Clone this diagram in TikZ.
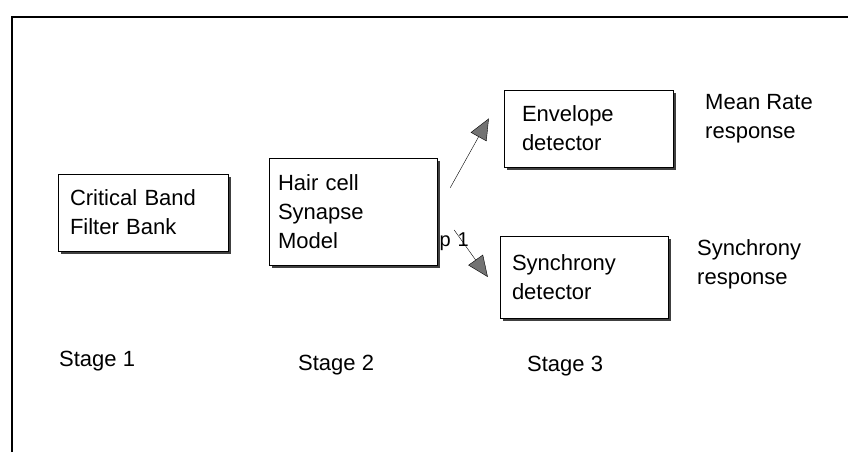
\documentclass[tikz,border=0pt]{standalone}
\usepackage{fontspec}
\setmainfont{Liberation Sans}
\usetikzlibrary{arrows.meta, shadows}
\tikzset{
	block/.style={draw, thin, fill=white, align=left, inner ysep=0pt,
		drop shadow={shadow xshift=3pt, shadow yshift=-3pt, fill=black!75, opacity=1}},
	arrow/.style={thin, -{Triangle[length=21pt, width=18pt, fill=black!55]}},
	caption/.style={inner sep=0pt, align=left},
}

\begin{document}
\begin{tikzpicture}[x=1pt, y=-1pt, font=\fontsize{22}{29}\selectfont]
	\useasboundingbox (0,0) rectangle (848,454);
	% frame
	\draw[line width=1.2pt] (12,452) -- (12,17) -- (848,17);

	\node[block, text width=146pt, inner xsep=12pt, minimum height=77pt] (F1) at (143,212.5) {Critical Band\\Filter Bank};
	\node[block, text width=150pt, inner xsep=9pt, minimum height=107pt] (H2) at (353,211.5) {Hair cell\\Synapse\\Model};
	\node[block, text width=133pt, inner xsep=18pt, minimum height=77pt] (E3) at (588.5,128.5) {Envelope\\detector};
	\node[block, text width=144pt, inner xsep=12pt, minimum height=82pt] (S3) at (584,277) {Synchrony\\detector};

	\node[caption, anchor=north west] (R1) at (705,94) {Mean Rate\\response};
	\node[caption, anchor=north west] (R2) at (697,239) {Synchrony\\response};

	\node[caption, anchor=base west] (L1) at (59,366) {Stage 1};
	\node[caption, anchor=base west] (L2) at (298,370) {Stage 2};
	\node[caption, anchor=base west] (L3) at (527,371) {Stage 3};

	\draw[arrow] ([xshift=13pt, yshift=-30pt]H2.north east) -- ([xshift=-15pt, yshift=10pt]E3.west);
	\draw[arrow] ([xshift=17pt, yshift=-18.5pt]H2.east)
		-- node[pos=0, yshift=-12pt, inner sep=0pt, font=\fontsize{20}{24}\selectfont] (P1) {p\,\,1}
		([xshift=-12pt]S3.west);
\end{tikzpicture}
\end{document}
